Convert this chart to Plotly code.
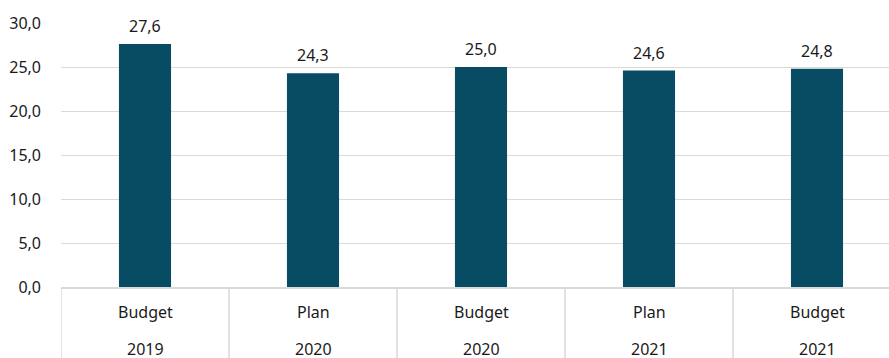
import plotly.graph_objects as go

scenarios = ["Budget", "Plan", "Budget", "Plan", "Budget"]
years = ["2019", "2020", "2020", "2021", "2021"]
values = [27.6, 24.3, 25.0, 24.6, 24.8]
y_ticks = [0, 5, 10, 15, 20, 25, 30]

BAR = "#084C64"
GRID = "#D9D9D9"
FONT = "Noto Sans"
TXT = "#1a1a1a"

xs = list(range(len(values)))

fig = go.Figure()
fig.add_trace(go.Bar(x=xs, y=values, width=0.31, marker=dict(color=BAR, line=dict(width=0)),
                     hoverinfo="skip"))

annotations = []
for i, v in enumerate(values):
    annotations.append(dict(x=i, y=v, xref="x", yref="y", text=f"{v:.1f}".replace(".", ","),
                            showarrow=False, yanchor="bottom", yshift=5,
                            font=dict(family=FONT, size=16, color=TXT)))
    annotations.append(dict(x=i, y=0, xref="x", yref="paper", text=scenarios[i],
                            showarrow=False, yanchor="middle", yshift=-25,
                            font=dict(family=FONT, size=16, color=TXT)))
    annotations.append(dict(x=i, y=0, xref="x", yref="paper", text=years[i],
                            showarrow=False, yanchor="middle", yshift=-62,
                            font=dict(family=FONT, size=16, color=TXT)))

shapes = []
for i in range(len(values)):
    shapes.append(dict(type="line", xref="x", yref="paper", x0=i - 0.5, x1=i - 0.5,
                       y0=0, y1=-0.3, line=dict(color=GRID, width=1.5)))

fig.update_layout(
    width=889, height=358,
    margin=dict(l=61, r=0, t=23, b=71),
    plot_bgcolor="white", paper_bgcolor="white",
    showlegend=False,
    annotations=annotations,
    shapes=shapes,
    xaxis=dict(range=[-0.5, -0.5 + 828 / 168], showticklabels=False, showgrid=False,
               zeroline=False, showline=True, linecolor=GRID, linewidth=1.5, fixedrange=True),
    yaxis=dict(range=[0, 30], tickvals=y_ticks,
               ticktext=[f"{t:.1f}".replace(".", ",") for t in y_ticks],
               showgrid=True, gridcolor=GRID, gridwidth=1, zeroline=False,
               ticklabelstandoff=19,
               tickfont=dict(family=FONT, size=16, color=TXT), fixedrange=True),
)

fig.write_html("out.html", config={"displayModeBar": False},
               post_script="document.body.style.margin='0';document.body.style.overflow='hidden';")
